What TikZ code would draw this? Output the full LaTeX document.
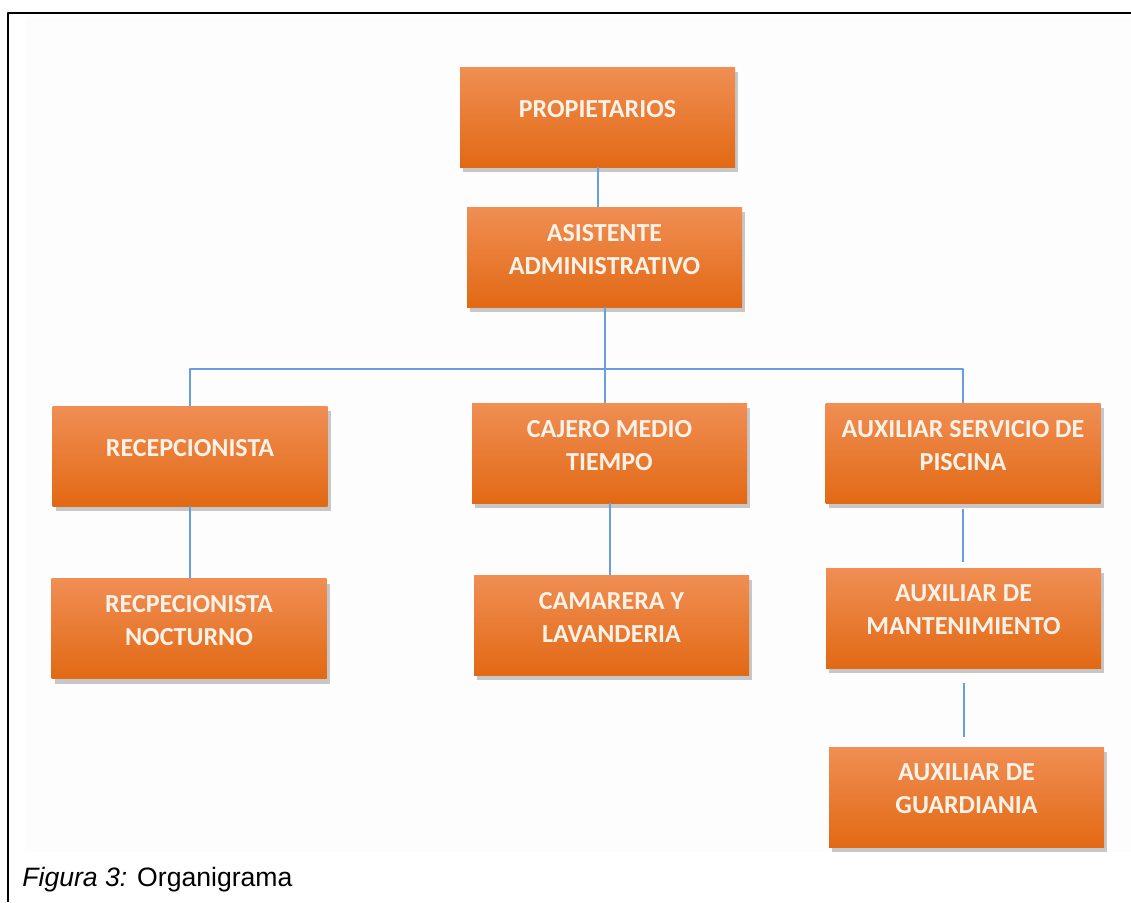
\documentclass[tikz,border=0pt]{standalone}
\usepackage{fontspec}
\setmainfont{Liberation Sans}
\newfontfamily\cajafont{Carlito}
\usetikzlibrary{shadows}
\definecolor{naranjaA}{RGB}{240,142,84}
\definecolor{naranjaB}{RGB}{242,124,42}
\definecolor{naranjaC}{RGB}{226,105,20}
\definecolor{azul}{RGB}{104,158,222}
\definecolor{letra}{RGB}{253,242,232}
\definecolor{fondo}{RGB}{253,253,253}
\begin{document}
\begin{tikzpicture}[x=0.5pt,y=-0.5pt,line join=round,
	caja/.style={rectangle,minimum width=137.5pt,minimum height=50pt,inner xsep=2pt,
		top color=naranjaA,middle color=naranjaB,bottom color=naranjaC,
		drop shadow={shadow xshift=1.5pt,shadow yshift=-2.5pt,fill=black!70,opacity=.3},
		text=letra,align=center,text depth=8pt,
		font=\cajafont\bfseries\fontsize{13}{16.5}\selectfont},
	linea/.style={draw=azul,line width=1pt}]
	
	\useasboundingbox (0,0) rectangle (1131,902);
	\fill[fondo] (25,17) rectangle (1131,852); % fondo
	\draw[line width=1.25pt] (1131,13) -- (8,13) -- (8,902); % marco
	
	\node[caja] (prop) at (597.5,117) {PROPIETARIOS};
	\node[caja] (asis) at (604.5,257) {ASISTENTE\\ADMINISTRATIVO};
	\node[caja] (recep) at (190,456) {RECEPCIONISTA};
	\node[caja] (cajero) at (609.5,453) {CAJERO MEDIO\\TIEMPO};
	\node[caja] (auxserv) at (963,453) {AUXILIAR SERVICIO DE\\PISCINA};
	\node[caja] (noct) at (189,628.5) {RECPECIONISTA\\NOCTURNO};
	\node[caja] (cam) at (611.5,625) {CAMARERA Y\\LAVANDERIA};
	\node[caja] (mant) at (963.5,618) {AUXILIAR DE\\MANTENIMIENTO};
	\node[caja] (guard) at (966.5,797) {AUXILIAR DE\\GUARDIANIA};
	\coordinate (barra) at (604.5,369);
	
	\draw[linea] (prop.south) -- (prop.south |- asis.north);
	\draw[linea] (asis.south) -- (asis.south |- cajero.north);
	\draw[linea] (recep.north) |- (barra) -| (auxserv.north); % ramas
	\draw[linea] (recep.south) -- (recep.south |- noct.north);
	\draw[linea] (cajero.south) -- (cajero.south |- cam.north);
	\draw[linea,shorten <=3pt,shorten >=3pt] (auxserv.south) -- (auxserv.south |- mant.north);
	\draw[linea,shorten <=7.5pt,shorten >=5pt] (mant.south) -- (mant.south |- guard.north);
	
	\node[anchor=base west,inner sep=0pt,font=\fontsize{13.3}{16}\selectfont] (pie) at (22,886) {\textit{Figura 3:} Organigrama};
\end{tikzpicture}
\end{document}
